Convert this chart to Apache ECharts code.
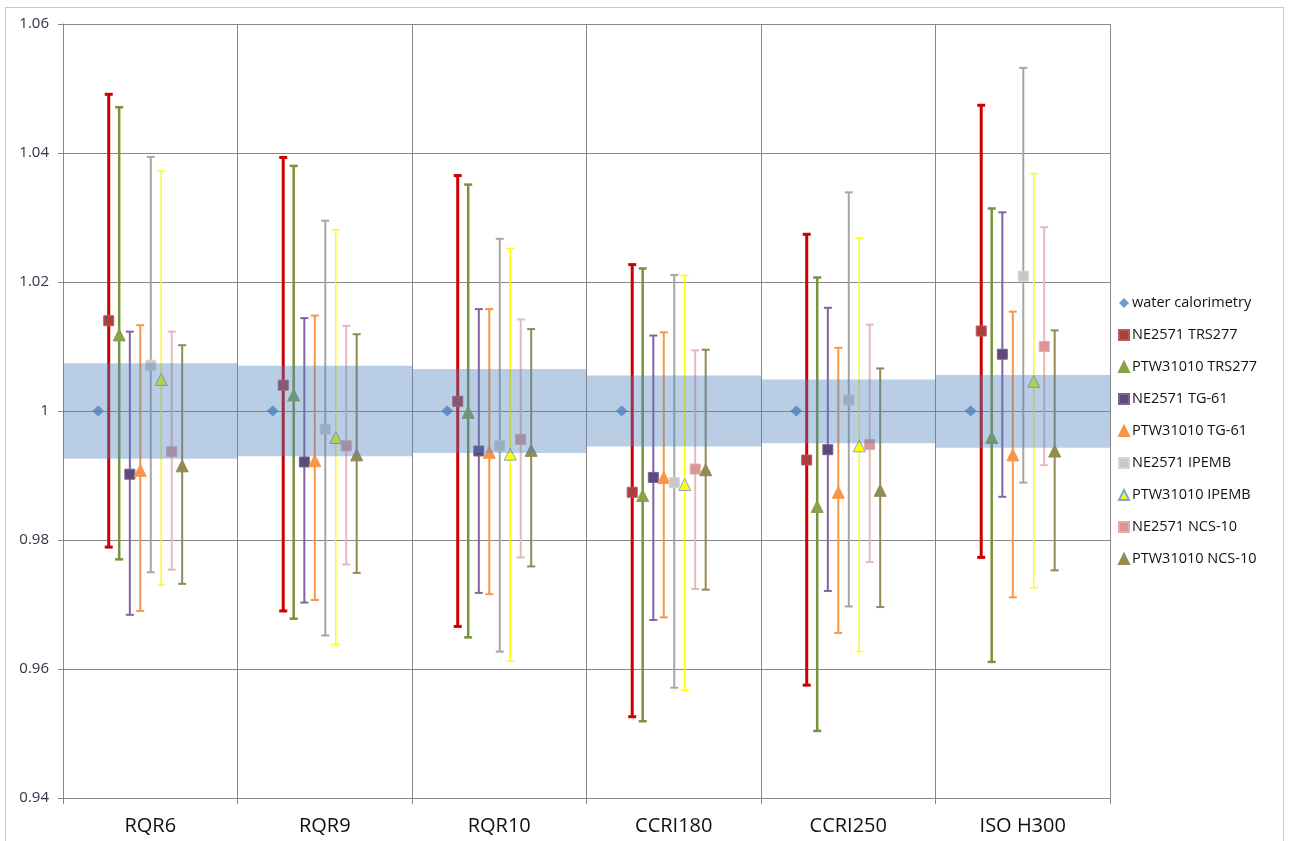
<!DOCTYPE html>
<html>
<head>
<meta charset="utf-8">
<script src="https://cdn.jsdelivr.net/npm/echarts/dist/echarts.min.js"></script>
<style>
html,body{margin:0;padding:0;background:#fff;overflow:hidden;}
#frame{position:absolute;left:5px;top:7px;width:1279px;height:840px;border:1px solid #C8C8C8;box-sizing:border-box;}
#chart{position:absolute;left:0;top:0;width:1290px;height:841px;}
</style>
</head>
<body>
<div id="frame"></div>
<div id="chart"></div>
<script>
// ---------------- data ----------------
const categories = ['RQR6', 'RQR9', 'RQR10', 'CCRI180', 'CCRI250', 'ISO H300'];
const yTicks = ['0.94', '0.96', '0.98', '1', '1.02', '1.04', '1.06'];

const waterCal = [1, 1, 1, 1, 1, 1];
const waterBandLow  = [0.9926, 0.9930, 0.9935, 0.9945, 0.9950, 0.9943];
const waterBandHigh = [1.0074, 1.0070, 1.0065, 1.0055, 1.0049, 1.0056];

const ne2571Trs277     = [1.0140, 1.0040, 1.0015, 0.9874, 0.9924, 1.0124];
const ne2571Trs277Hi   = [1.0491, 1.0393, 1.0365, 1.0227, 1.0274, 1.0474];
const ne2571Trs277Lo   = [0.9789, 0.9690, 0.9666, 0.9526, 0.9575, 0.9773];

const ptw31010Trs277   = [1.0118, 1.0025, 0.9998, 0.9869, 0.9852, 0.9959];
const ptw31010Trs277Hi = [1.0471, 1.0380, 1.0351, 1.0221, 1.0207, 1.0314];
const ptw31010Trs277Lo = [0.9770, 0.9678, 0.9649, 0.9519, 0.9504, 0.9611];

const ne2571Tg61       = [0.9902, 0.9921, 0.9938, 0.9897, 0.9940, 1.0088];
const ne2571Tg61Hi     = [1.0123, 1.0144, 1.0158, 1.0117, 1.0160, 1.0308];
const ne2571Tg61Lo     = [0.9684, 0.9703, 0.9718, 0.9676, 0.9721, 0.9867];

const ptw31010Tg61     = [0.9908, 0.9923, 0.9936, 0.9897, 0.9874, 0.9932];
const ptw31010Tg61Hi   = [1.0133, 1.0148, 1.0158, 1.0122, 1.0098, 1.0154];
const ptw31010Tg61Lo   = [0.9690, 0.9707, 0.9716, 0.9680, 0.9656, 0.9711];

const ne2571Ipemb      = [1.0071, 0.9972, 0.9946, 0.9889, 1.0017, 1.0209];
const ne2571IpembHi    = [1.0394, 1.0295, 1.0267, 1.0211, 1.0339, 1.0532];
const ne2571IpembLo    = [0.9750, 0.9652, 0.9627, 0.9571, 0.9697, 0.9889];

const ptw31010Ipemb    = [1.0049, 0.9959, 0.9933, 0.9886, 0.9946, 1.0046];
const ptw31010IpembHi  = [1.0372, 1.0281, 1.0252, 1.0210, 1.0268, 1.0368];
const ptw31010IpembLo  = [0.9730, 0.9638, 0.9612, 0.9567, 0.9627, 0.9726];

const ne2571Ncs10      = [0.9937, 0.9946, 0.9956, 0.9910, 0.9948, 1.0100];
const ne2571Ncs10Hi    = [1.0123, 1.0132, 1.0142, 1.0094, 1.0134, 1.0285];
const ne2571Ncs10Lo    = [0.9754, 0.9762, 0.9773, 0.9724, 0.9766, 0.9916];

const ptw31010Ncs10    = [0.9915, 0.9932, 0.9939, 0.9909, 0.9877, 0.9938];
const ptw31010Ncs10Hi  = [1.0102, 1.0119, 1.0127, 1.0095, 1.0066, 1.0125];
const ptw31010Ncs10Lo  = [0.9732, 0.9749, 0.9759, 0.9723, 0.9696, 0.9753];

// ---------------- layout / style ----------------
const FONT = '"Open Sans", Lato, sans-serif';
const GRID = {left: 63, top: 24, width: 1047, height: 774};
const BAND_W = GRID.width / categories.length;
const GRIDLINE = '#878787';

const seriesDefs = [
  {name: 'NE2571 TRS277',   v: ne2571Trs277,   hi: ne2571Trs277Hi,   lo: ne2571Trs277Lo,   off: -0.238, sym: 'rect',     size: 10, fill: '#A8403D', border: '#B85A57', bar: '#CC0000', lw: 3},
  {name: 'PTW31010 TRS277', v: ptw31010Trs277, hi: ptw31010Trs277Hi, lo: ptw31010Trs277Lo, off: -0.178, sym: 'triangle', size: 12, fill: '#86A34A', border: '#86A34A', bar: '#77933C', lw: 2.5},
  {name: 'NE2571 TG-61',    v: ne2571Tg61,     hi: ne2571Tg61Hi,     lo: ne2571Tg61Lo,     off: -0.117, sym: 'rect',     size: 10, fill: '#5F497A', border: '#7A6494', bar: '#8064A2', lw: 2},
  {name: 'PTW31010 TG-61',  v: ptw31010Tg61,   hi: ptw31010Tg61Hi,   lo: ptw31010Tg61Lo,   off: -0.057, sym: 'triangle', size: 12, fill: '#F79646', border: '#F79646', bar: '#F79646', lw: 2},
  {name: 'NE2571 IPEMB',    v: ne2571Ipemb,    hi: ne2571IpembHi,    lo: ne2571IpembLo,    off: 0.003,  sym: 'rect',     size: 10, fill: '#C8C8C8', border: '#D4D4D4', bar: '#A6A6A6', lw: 2},
  {name: 'PTW31010 IPEMB',  v: ptw31010Ipemb,  hi: ptw31010IpembHi,  lo: ptw31010IpembLo,  off: 0.063,  sym: 'triangle', size: 12, fill: '#FFFF00', border: '#7FA6D6', bar: '#FFFF00', lw: 1.5},
  {name: 'NE2571 NCS-10',   v: ne2571Ncs10,    hi: ne2571Ncs10Hi,    lo: ne2571Ncs10Lo,    off: 0.123,  sym: 'rect',     size: 10, fill: '#D99694', border: '#E3ABA9', bar: '#E6B9B8', lw: 2},
  {name: 'PTW31010 NCS-10', v: ptw31010Ncs10,  hi: ptw31010Ncs10Hi,  lo: ptw31010Ncs10Lo,  off: 0.183,  sym: 'triangle', size: 12, fill: '#948A54', border: '#948A54', bar: '#938953', lw: 2}
];

function errRender(offFrac, color, lw) {
  return function (params, api) {
    const i = api.value(0);
    const lo = api.coord([i, api.value(1)]);
    const hi = api.coord([i, api.value(2)]);
    const bw = api.size([1, 0])[0];
    const x = lo[0] + offFrac * bw;
    const cap = 4;
    const st = {stroke: color, lineWidth: lw};
    return {type: 'group', children: [
      {type: 'line', shape: {x1: x, y1: hi[1], x2: x, y2: lo[1]}, style: st},
      {type: 'line', shape: {x1: x - cap, y1: hi[1], x2: x + cap, y2: hi[1]}, style: st},
      {type: 'line', shape: {x1: x - cap, y1: lo[1], x2: x + cap, y2: lo[1]}, style: st}
    ]};
  };
}

function bandRender(params, api) {
  const i = api.value(0);
  const lo = api.coord([i, api.value(1)]);
  const hi = api.coord([i, api.value(2)]);
  const bw = api.size([1, 0])[0];
  return {type: 'rect', shape: {x: lo[0] - bw / 2, y: hi[1], width: bw, height: lo[1] - hi[1]},
          style: {fill: 'rgba(79,129,189,0.40)'}};
}

const series = [];
// error bars
seriesDefs.forEach(d => {
  series.push({
    name: d.name + ' err', type: 'custom', z: 3, silent: true,
    renderItem: errRender(d.off, d.bar, d.lw),
    encode: {x: 0, y: [1, 2]},
    data: categories.map((c, i) => [i, d.lo[i], d.hi[i]])
  });
});
// water calorimetry marker
series.push({
  name: 'water calorimetry', type: 'scatter', z: 5, symbol: 'diamond', symbolSize: [12, 11],
  symbolOffset: [-0.298 * BAND_W, 0],
  itemStyle: {color: '#4F81BD'},
  data: waterCal.map((v, i) => [i, v])
});
// instrument markers
seriesDefs.forEach(d => {
  series.push({
    name: d.name, type: 'scatter', z: 5, symbol: d.sym, symbolSize: d.size,
    symbolOffset: [d.off * BAND_W, 0],
    itemStyle: {color: d.fill, borderColor: d.border, borderWidth: 1, opacity: 1},
    data: d.v.map((v, i) => [i, v])
  });
});
// water calorimetry uncertainty band (semi-transparent, on top)
series.push({
  name: 'band', type: 'custom', z: 8, silent: true,
  renderItem: bandRender, encode: {x: 0, y: [1, 2]},
  data: categories.map((c, i) => [i, waterBandLow[i], waterBandHigh[i]])
});

const chart = echarts.init(document.getElementById('chart'), null, {renderer: 'canvas'});
chart.setOption({
  animation: false,
  backgroundColor: 'transparent',
  textStyle: {fontFamily: FONT},
  grid: {left: GRID.left, top: GRID.top, width: GRID.width, height: GRID.height, containLabel: false},
  legend: {
    orient: 'vertical', left: 1113, top: 289,
    itemWidth: 10, itemHeight: 10, itemGap: 14, itemStyle: {},
    textStyle: {fontFamily: FONT, fontSize: 14.5, color: '#111', lineHeight: 18, padding: [0, 0, 0, -2]},
    data: ['water calorimetry'].concat(seriesDefs.map(d => d.name)),
    selectedMode: false
  },
  xAxis: {
    type: 'category', data: categories, boundaryGap: true,
    axisLine: {show: true, lineStyle: {color: GRIDLINE, width: 1}},
    axisTick: {show: true, length: 6, lineStyle: {color: GRIDLINE}},
    splitLine: {show: true, lineStyle: {color: GRIDLINE, width: 1}},
    axisLabel: {fontFamily: FONT, fontSize: 20, color: '#111', margin: 18}
  },
  yAxis: {
    type: 'value',
    min: parseFloat(yTicks[0]), max: parseFloat(yTicks[yTicks.length - 1]),
    interval: parseFloat(yTicks[1]) - parseFloat(yTicks[0]),
    axisLine: {show: true, lineStyle: {color: GRIDLINE, width: 1}},
    axisTick: {show: true, length: 5, lineStyle: {color: GRIDLINE}},
    splitLine: {show: true, lineStyle: {color: GRIDLINE, width: 1}},
    axisLabel: {
      fontFamily: FONT, fontSize: 15, color: '#333344', margin: 14,
      formatter: v => {
        const t = yTicks.find(s => Math.abs(parseFloat(s) - v) < 1e-9);
        return t === undefined ? '' : t;
      }
    }
  },
  series: series
});
</script>
</body>
</html>
